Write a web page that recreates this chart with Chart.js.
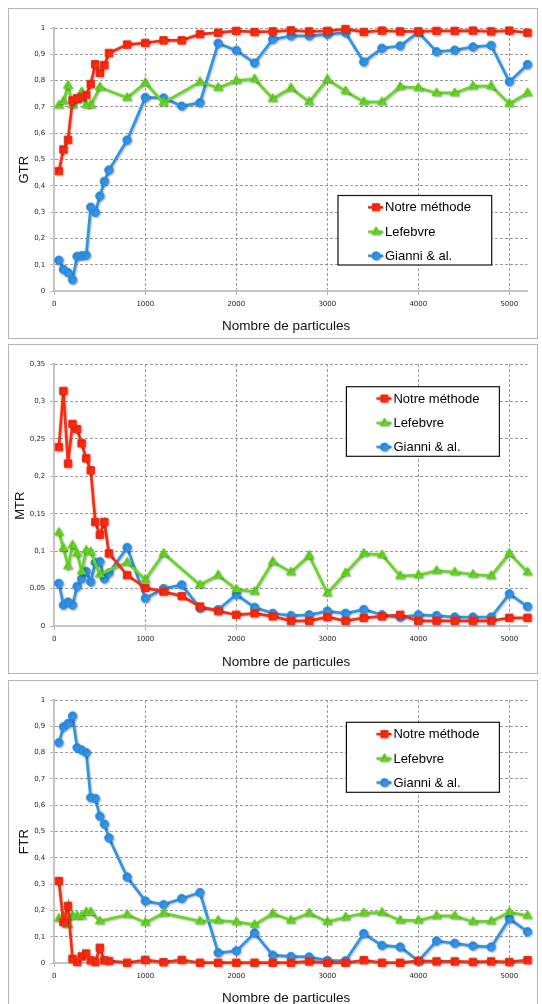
<!DOCTYPE html>
<html>
<head>
<meta charset="utf-8">
<script src="https://cdn.jsdelivr.net/npm/chart.js@4"></script>
<style>
  html, body { margin: 0; padding: 0; background: #fff; }
  body { width: 542px; height: 1004px; position: relative; overflow: hidden; }
  .panel { position: absolute; left: 8px; width: 528px; border: 1px solid #b4b4b4; background: #fff; }
  .panel canvas { display: block; }
</style>
</head>
<body>
<div class="panel" style="top:8px;height:329px"><canvas id="gtr" width="528" height="329"></canvas></div>
<div class="panel" style="top:344px;height:328px"><canvas id="mtr" width="528" height="328"></canvas></div>
<div class="panel" style="top:680px;height:329px"><canvas id="ftr" width="528" height="329"></canvas></div>

<script>
// Number of particles (x values shared by every series)
const particles = [50, 100, 150, 200, 250, 300, 350, 400, 450, 500, 550, 600,
  800, 1000, 1200, 1400, 1600, 1800, 2000, 2200, 2400, 2600, 2800, 3000, 3200,
  3400, 3600, 3800, 4000, 4200, 4400, 4600, 4800, 5000, 5200];

const seriesNames = ['Notre méthode', 'Lefebvre', 'Gianni & al.'];
const xTickValues = [0, 1000, 2000, 3000, 4000, 5000];
const xTitle = 'Nombre de particules';

// GTR
const gtrNotre = [0.456, 0.538, 0.575, 0.725, 0.733, 0.738, 0.745, 0.787, 0.862, 0.829, 0.859, 0.905,
  0.937, 0.943, 0.953, 0.953, 0.977, 0.982, 0.989, 0.985, 0.987, 0.991, 0.987, 0.989, 0.996,
  0.985, 0.990, 0.987, 0.987, 0.989, 0.989, 0.990, 0.987, 0.990, 0.982];
const gtrLefebvre = [0.706, 0.722, 0.781, 0.707, 0.727, 0.757, 0.707, 0.707, null, 0.775, null, null,
  0.735, 0.792, 0.716, null, 0.795, 0.773, 0.800, 0.806, 0.731, 0.772, 0.719, 0.805, 0.760,
  0.719, 0.719, 0.777, 0.772, 0.753, 0.753, 0.779, 0.779, 0.712, 0.753];
const gtrGianni = [0.117, 0.082, 0.070, 0.043, 0.132, 0.134, 0.136, 0.319, 0.299, 0.361, 0.417, 0.460,
  0.574, 0.736, 0.734, 0.703, 0.716, 0.942, 0.915, 0.867, 0.957, 0.970, 0.970, 0.976, 0.982,
  0.871, 0.923, 0.932, 0.984, 0.910, 0.916, 0.928, 0.934, 0.796, 0.861];
const gtrTicks = [0, 0.1, 0.2, 0.3, 0.4, 0.5, 0.6, 0.7, 0.8, 0.9, 1];

// MTR
const mtrNotre = [0.239, 0.314, 0.217, 0.270, 0.263, 0.244, 0.224, 0.208, 0.139, 0.122, 0.139, 0.097,
  0.068, 0.051, 0.046, 0.040, 0.026, 0.020, 0.015, 0.017, 0.013, 0.007, 0.007, 0.012, 0.007,
  0.011, 0.013, 0.015, 0.007, 0.007, 0.007, 0.007, 0.007, 0.011, 0.011];
const mtrLefebvre = [0.125, 0.104, 0.080, 0.108, 0.097, 0.073, 0.101, 0.099, null, 0.069, null, null,
  0.085, 0.062, 0.097, null, 0.055, 0.068, 0.049, 0.046, 0.086, 0.072, 0.094, 0.044, 0.071,
  0.097, 0.095, 0.067, 0.068, 0.074, 0.072, 0.069, 0.067, 0.097, 0.072];
const mtrGianni = [0.057, 0.028, 0.032, 0.028, 0.053, 0.063, 0.073, 0.059, 0.085, 0.086, 0.063, 0.071,
  0.105, 0.037, 0.050, 0.055, 0.024, 0.022, 0.042, 0.025, 0.017, 0.014, 0.015, 0.020, 0.017,
  0.022, 0.015, 0.012, 0.015, 0.014, 0.012, 0.012, 0.012, 0.043, 0.026];
const mtrTicks = [0, 0.05, 0.1, 0.15, 0.2, 0.25, 0.3, 0.35];

// FTR
const ftrNotre = [0.312, 0.156, 0.217, 0.016, 0.004, 0.025, 0.036, 0.010, 0.004, 0.058, 0.010, 0.008,
  0.001, 0.012, 0.003, 0.012, 0.001, 0.001, 0.001, 0.001, 0.001, 0.001, 0.006, 0.001, 0.001,
  0.011, 0.001, 0.001, 0.008, 0.006, 0.006, 0.004, 0.006, 0.004, 0.011];
const ftrLefebvre = [0.169, 0.178, 0.146, 0.180, 0.178, 0.178, 0.194, 0.194, null, 0.159, null, null,
  0.184, 0.154, 0.189, null, 0.159, 0.162, 0.156, 0.146, 0.188, 0.162, 0.189, 0.157, 0.174,
  0.190, 0.192, 0.162, 0.162, 0.179, 0.179, 0.157, 0.159, 0.193, 0.180];
const ftrGianni = [0.838, 0.898, 0.911, 0.939, 0.819, 0.810, 0.800, 0.629, 0.626, 0.558, 0.528, 0.476,
  0.327, 0.236, 0.222, 0.245, 0.268, 0.039, 0.046, 0.114, 0.030, 0.025, 0.023, 0.010, 0.009,
  0.112, 0.067, 0.061, 0.008, 0.084, 0.075, 0.065, 0.061, 0.168, 0.119];
const ftrTicks = [0, 0.1, 0.2, 0.3, 0.4, 0.5, 0.6, 0.7, 0.8, 0.9, 1];

// Series appearance
const styles = [
  { color: '#ff2a0e', pointStyle: 'rect', radius: 5.2 },
  { color: '#66d823', pointStyle: 'triangle', radius: 5.2 },
  { color: '#2f94ea', pointStyle: 'circle', radius: 4.2 }
];

const fmt = v => String(+v.toFixed(2)).replace('.', ',');

// Drop shadow under lines and markers
const shadowPlugin = {
  id: 'markerShadow',
  beforeDatasetsDraw(chart) {
    const ctx = chart.ctx;
    ctx.save();
    ctx.shadowColor = 'rgba(0,0,0,0.28)';
    ctx.shadowBlur = 2;
    ctx.shadowOffsetX = 1;
    ctx.shadowOffsetY = 1;
  },
  afterDatasetsDraw(chart) { chart.ctx.restore(); }
};

// Axis titles and boxed legend inside the plot
const decorPlugin = {
  id: 'panelDecor',
  afterDraw(chart, args, opts) {
    const ctx = chart.ctx;
    ctx.save();
    // y title
    ctx.fillStyle = '#111';
    ctx.font = '13px "Liberation Sans", Arial, sans-serif';
    ctx.textAlign = 'center';
    ctx.textBaseline = 'middle';
    ctx.save();
    ctx.translate(opts.yTitleX, 160.7);
    ctx.rotate(-Math.PI / 2);
    ctx.fillText(opts.yTitle, 0, 0);
    ctx.restore();
    // x title
    ctx.font = '13.5px "Liberation Sans", Arial, sans-serif';
    ctx.fillText(xTitle, 277.2, 317);

    // legend box
    const L = opts.legend;
    ctx.fillStyle = '#fff';
    ctx.fillRect(L.x, L.y, L.w, L.h);
    ctx.strokeStyle = '#111';
    ctx.lineWidth = 1.2;
    ctx.strokeRect(L.x, L.y, L.w, L.h);
    const rows = [11.8, 36.2, 60.2];
    seriesNames.forEach((name, i) => {
      const s = styles[i];
      const cy = L.y + rows[i];
      ctx.save();
      ctx.shadowColor = 'rgba(0,0,0,0.25)';
      ctx.shadowBlur = 1.5;
      ctx.shadowOffsetX = 1;
      ctx.shadowOffsetY = 1;
      ctx.strokeStyle = s.color;
      ctx.fillStyle = s.color;
      ctx.lineWidth = 2.5;
      ctx.beginPath();
      ctx.moveTo(L.x + 30, cy);
      ctx.lineTo(L.x + 45, cy);
      ctx.stroke();
      ctx.lineWidth = 1;
      Chart.helpers.drawPoint(ctx, { pointStyle: s.pointStyle, radius: s.radius * 0.95, rotation: 0, borderWidth: 1 }, L.x + 38, cy);
      ctx.restore();
      ctx.fillStyle = '#000';
      ctx.textAlign = 'left';
      ctx.font = '13px "Liberation Sans", Arial, sans-serif';
      ctx.fillText(name, L.x + 47, cy + 0.5);
    });
    ctx.restore();
  }
};

function makeChart(id, seriesValues, yTicks, yTitle, yTitleX, legend) {
  const datasets = seriesValues.map((vals, i) => ({
    label: seriesNames[i],
    data: particles.map((x, j) => ({ x: x, y: vals[j] })),
    borderColor: styles[i].color,
    backgroundColor: styles[i].color,
    borderWidth: 2.75,
    pointStyle: styles[i].pointStyle,
    pointRadius: styles[i].radius,
    pointBackgroundColor: styles[i].color,
    pointBorderColor: styles[i].color,
    pointBorderWidth: 1,
    tension: 0,
    spanGaps: true,
    clip: false
  }));

  const tickFont = { family: '"DejaVu Sans", Verdana, sans-serif', size: 7 };

  return new Chart(document.getElementById(id), {
    type: 'line',
    data: { datasets },
    plugins: [shadowPlugin, decorPlugin],
    options: {
      responsive: false,
      animation: false,
      devicePixelRatio: 1,
      layout: { padding: { top: 19, right: 9.5, left: 0, bottom: 0 } },
      plugins: {
        legend: { display: false },
        tooltip: { enabled: false },
        panelDecor: { yTitle, yTitleX, legend }
      },
      scales: {
        x: {
          type: 'linear',
          min: 0,
          max: 5200,
          afterBuildTicks: s => { s.ticks = xTickValues.map(v => ({ value: v })); },
          afterFit: s => { s.height = 47; },
          ticks: { font: tickFont, color: '#222', padding: 5, maxRotation: 0, autoSkip: false,
                   callback: v => String(v) },
          grid: { color: '#9a9a9a', lineWidth: 1, tickColor: '#b0b0b0', tickLength: 4, tickBorderDash: [] },
          border: { color: '#c4c4c4', width: 2, dash: [3, 2] }
        },
        y: {
          type: 'linear',
          min: 0,
          max: yTicks[yTicks.length - 1],
          afterBuildTicks: s => { s.ticks = yTicks.map(v => ({ value: v })); },
          afterFit: s => { s.width = 45.3; },
          ticks: { font: tickFont, color: '#222', padding: 5, autoSkip: false, callback: v => fmt(v) },
          grid: { color: '#9a9a9a', lineWidth: 1, tickColor: '#b0b0b0', tickLength: 4, tickBorderDash: [] },
          border: { color: '#c4c4c4', width: 2, dash: [3, 2] }
        }
      }
    }
  });
}

makeChart('gtr', [gtrNotre, gtrLefebvre, gtrGianni], gtrTicks, 'GTR', 15,
  { x: 329, y: 186.5, w: 153.7, h: 69.5 });
makeChart('mtr', [mtrNotre, mtrLefebvre, mtrGianni], mtrTicks, 'MTR', 11,
  { x: 337.4, y: 41.7, w: 153, h: 69.6 });
makeChart('ftr', [ftrNotre, ftrLefebvre, ftrGianni], ftrTicks, 'FTR', 15.5,
  { x: 337.4, y: 41.3, w: 153, h: 70 });
</script>
</body>
</html>
